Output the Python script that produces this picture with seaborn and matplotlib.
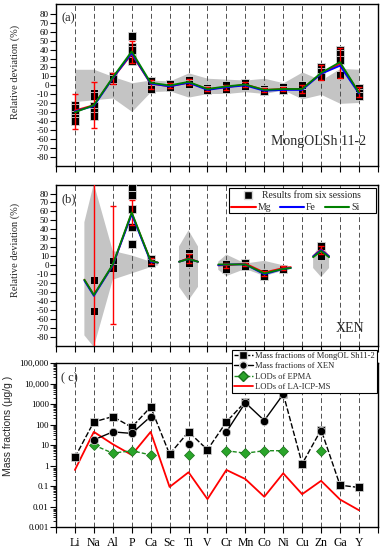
import numpy as np
import pandas as pd
import matplotlib
matplotlib.use("Agg")
import matplotlib.pyplot as plt
import matplotlib.ticker as mticker
from matplotlib.lines import Line2D
from matplotlib.patches import Rectangle
import seaborn as sns

nan = np.nan

# ---------------- data ----------------
elements = ['Li', 'Na', 'Al', 'P', 'Ca', 'Sc', 'Ti', 'V', 'Cr', 'Mn', 'Co', 'Ni', 'Cu', 'Zn', 'Ga', 'Y']
dev_ticks = list(range(-80, 90, 10))

# panel (a) MongOLSh 11-2
a_band_upper = [18, 18, 10, 3, 6, 5, 14, 8, 7, 6, 8, 3, 15, 6, 19, 18]
a_band_lower = [-18, -16, -14, -29, -7, -6, -13, -9, -9, -7, -9, -5, -15, -10, -20, -19]
a_sess_el = ['Li'] * 5 + ['Na'] * 5 + ['Al'] * 3 + ['P'] * 5 + ['Ca'] * 3 + ['Sc'] * 2 + ['Ti'] * 2 + \
            ['V'] * 2 + ['Cr'] * 2 + ['Mn'] * 2 + ['Co'] * 2 + ['Ni'] * 2 + ['Cu'] * 2 + ['Zn'] * 3 + \
            ['Ga'] * 4 + ['Y'] * 3
a_sess_val = [-22, -25, -33, -36, -40, -9, -12, -23, -30, -34, 10, 5, 7, 55, 43, 40, 30, 27,
              5, 0, -4, 2, -2, 6, 2, -3, -5, 0, -4, 3, -1, -4, -6, -2, -5, 0, -8,
              21, 15, 9, 40, 35, 28, 12, -3, -8, -12]
a_err_mean = [-29, -22, 8, 37, 1, 0, 4, -4, -2, 1, -5, -4, -4, 14, 25, -7]
a_err = [19.5, 26, 6, 12.5, 5, 3, 3, 2, 3, 3, 2, 2, 5, 8.5, 17, 5.5]
a_mg = [-28, -22, 8, 35, 2, -1, 3, -4, -2, 1, -5, -4, -4, 13, 24, -8]
a_fe = [-29, -23, 8, 36, 2, -1, 3, -5, -2, 0, -6, -5, -5, 13, 22, -9]
a_si = [-30, -22, 9, 38, 3, 0, 4, -4, -1, 1, -5, -4, -4, 14, 26, -8]

# panel (b) XEN
b_band_x = [0.5, 1, 2, 3, 4, 4.4, nan, 5.5, 6, 6.5, nan, 7.57, 8, 9, 10, 11, 11.4, nan, 12.58, 13, 13.42]
b_band_upper = [48, 91, 16, 11, 4, 1, nan, 21, 39, 21, nan, 4, 12, 2, 5, 0, -2, nan, 11, 24, 11]
b_band_lower = [-78, -91, -16, -9, -2, 0, nan, -24, -39, -24, nan, -5, -12, -4, -12, -6, -4, nan, -3, -13, -3]
b_sess_el = ['Na', 'Na', 'Al', 'Al', 'P', 'P', 'P', 'P', 'P', 'Ca', 'Ca', 'Ti', 'Ti', 'Ti',
             'Cr', 'Cr', 'Mn', 'Mn', 'Co', 'Co', 'Ni', 'Zn', 'Zn']
b_sess_val = [-16, -51, 5, -3, 87, 78, 63, 43, 24, 7, 3, 14, 9, 3, 1, -4, 3, -1, -8, -12, -4, 21, 10]
b_err_el = ['Na', 'Al', 'P', 'Ca', 'Ti', 'Cr', 'Mn', 'Co', 'Ni', 'Zn']
b_err_mean = [-33, 0.5, 59, 5, 8, 0, 1, -9, -3, 17]
b_err = [130, 65.5, 14, 3, 5, 3, 2, 3, 2, 4]
b_line_x = [0.5, 1, 2, 3, 4, 4.38, nan, 5.5, 6, 6.5, nan, 7.57, 8, 9, 10, 11, 11.4, nan, 12.58, 13, 13.42]
b_mg = [-16, -33, 0, 58, 5, 3, nan, 4, 8, 4, nan, 0, 0, 2, -8, -3, -2, nan, 10, 18, 10]
b_fe = [-17, -34, 0, 57, 4, 3, nan, 4, 7, 4, nan, 0, 1, 1, -10, -4, -3, nan, 10, 17, 10]
b_si = [-16, -33, 1, 59, 5, 3, nan, 4, 7, 4, nan, 1, 1, 1, -9, -4, -3, nan, 9, 16, 9]

# panel (c) mass fractions
c_mongol = [2.5, 135, 246, 74, 715, 3.6, 44, 5.9, 135, 1300, nan, 3200, 1.2, 56, 0.11, 0.085]
c_xen = [nan, 18, 44, 37, 246, nan, 11, nan, 44, 1170, 158, 3000, nan, 47, nan, nan]
c_epma = [nan, 10, 4, 5.3, 3.3, nan, 3.3, nan, 5.3, 4, 5.3, 5.3, nan, 5.3, nan, nan]
c_lod = [0.61, 44, 11, 3.3, 44, 0.09, 0.47, 0.023, 0.61, 0.22, 0.03, 0.42, 0.04, 0.18, 0.022, 0.0066]
c_ticks = [0.001, 0.01, 0.1, 1, 10, 100, 1000, 10000, 100000]
c_tick_labels = ['0.001', '0.01', '0.1', '1', '10', '100', '1000', '10,000', '100,000']

# ---------------- style ----------------
sns.set_theme(style="ticks")
plt.rcParams['font.family'] = ['Liberation Serif', 'DejaVu Serif']
plt.rcParams['axes.unicode_minus'] = False
plt.rcParams['axes.linewidth'] = 1.0

RED, BLUE, GREEN = '#ff0000', '#0000ff', '#008000'
BAND = '#c4c4c4'
VGRID = dict(color='#505050', lw=0.7, ls=(0, (5, 3)), zorder=1.5)

fig = plt.figure(figsize=(3.86, 5.5), dpi=100)
ax_a = fig.add_axes([0.145, 0.698, 0.834, 0.295])
ax_b = fig.add_axes([0.145, 0.3715, 0.834, 0.293])
ax_c = fig.add_axes([0.145, 0.0418, 0.834, 0.298])

xpos = np.arange(len(elements))
idx = {e: i for i, e in enumerate(elements)}


def dev_axes(ax, ylim):
    ax.set_xlim(-1, 16)
    ax.set_ylim(*ylim)
    ax.set_yticks(dev_ticks)
    ax.set_yticklabels([str(t) for t in dev_ticks])
    ax.set_xticks(range(-1, 17))
    ax.set_xticklabels([])
    ax.tick_params(axis='both', direction='out', length=4, width=0.8, pad=1.2, labelsize=6.5,
                   colors='black')
    for s in ax.spines.values():
        s.set_visible(True)
        s.set_color('black')
    for i in xpos:
        ax.axvline(i, **VGRID)


def squares(ax, els, vals):
    df = pd.DataFrame({'x': [idx[e] for e in els], 'y': vals})
    sns.scatterplot(data=df, x='x', y='y', ax=ax, marker='s', s=32, color='black',
                    edgecolor='#d8d8d8', linewidth=0.6, zorder=3, legend=False)
    ax.set_xlabel('')


# ---------------- panel (a) ----------------
dev_axes(ax_a, (-90, 91))
ax_a.fill_between(xpos, a_band_lower, a_band_upper, color=BAND, lw=0, zorder=1)
squares(ax_a, a_sess_el, a_sess_val)
ax_a.errorbar(xpos, a_err_mean, yerr=a_err, fmt='none', ecolor=RED, elinewidth=1.0,
              capsize=2.4, capthick=1.0, zorder=4)
dfa = pd.DataFrame({'x': np.tile(xpos, 3), 'y': a_mg + a_fe + a_si,
                    'el': ['Mg'] * 16 + ['Fe'] * 16 + ['Si'] * 16})
sns.lineplot(data=dfa, x='x', y='y', hue='el', palette={'Mg': RED, 'Fe': BLUE, 'Si': GREEN},
             hue_order=['Mg', 'Fe', 'Si'], lw=1.3, ax=ax_a, legend=False, zorder=5)
ax_a.set_xlabel('')
ax_a.set_ylabel('Relative deviation (%)', fontsize=7.5)
ax_a.yaxis.set_label_coords(-0.112, 0.58)
ax_a.text(0.016, 0.91, '(a)', transform=ax_a.transAxes, fontsize=9, va='center', ha='left')
ax_a.text(0.962, 0.15, 'MongOLSh 11-2', transform=ax_a.transAxes, fontsize=10, va='center', ha='right')

# ---------------- panel (b) ----------------
dev_axes(ax_b, (-89.5, 90))
ax_b.fill_between(b_band_x, b_band_lower, b_band_upper, color=BAND, lw=0, zorder=1)
squares(ax_b, b_sess_el, b_sess_val)
ax_b.errorbar([idx[e] for e in b_err_el], b_err_mean, yerr=b_err, fmt='none', ecolor=RED,
              elinewidth=1.0, capsize=2.4, capthick=1.0, zorder=4)
ax_b.plot(b_line_x, b_mg, color=RED, lw=1.3, zorder=5)
ax_b.plot(b_line_x, b_fe, color=BLUE, lw=1.3, zorder=5)
ax_b.plot(b_line_x, b_si, color=GREEN, lw=1.3, zorder=5)
ax_b.set_xlabel('')
ax_b.set_ylabel('Relative deviation (%)', fontsize=7.5)
ax_b.yaxis.set_label_coords(-0.112, 0.594)
ax_b.text(0.016, 0.91, '(b)', transform=ax_b.transAxes, fontsize=9, va='center', ha='left')
ax_b.text(0.957, 0.108, 'XEN', transform=ax_b.transAxes, fontsize=10, va='center', ha='right')

frame = Rectangle((0.537, 0.821), 0.458, 0.155, transform=ax_b.transAxes, facecolor='white',
                  edgecolor='black', lw=0.8, zorder=6)
ax_b.add_patch(frame)
leg1 = ax_b.legend(handles=[Line2D([], [], ls='none', marker='s', color='black',
                                   markeredgecolor='#d8d8d8', ms=6)],
                   labels=['Results from six sessions'], loc='center left',
                   bbox_to_anchor=(0.565, 0.93), frameon=False, fontsize=7,
                   handletextpad=0.5, borderpad=0, borderaxespad=0)
leg1.set_zorder(7)
ax_b.add_artist(leg1)
leg2 = ax_b.legend(handles=[Line2D([], [], color=c, lw=1.5) for c in (RED, BLUE, GREEN)],
                   labels=['Mg', 'Fe', 'Si'], ncol=3, loc='center left',
                   bbox_to_anchor=(0.545, 0.855), frameon=False, fontsize=7,
                   handlelength=2.5, handletextpad=0.2, columnspacing=0.9,
                   borderpad=0, borderaxespad=0)
leg2.set_zorder(7)

# ---------------- panel (c) ----------------
ax_c.set_yscale('log')
ax_c.set_xlim(-1, 16)
ax_c.set_ylim(0.001, 100000)
for i in xpos:
    ax_c.axvline(i, **VGRID)
ax_c.plot(xpos, c_lod, color=RED, lw=1.3, zorder=2)
ax_c.plot(xpos, c_epma, color='#1e8c1e', lw=1.0, ls=(0, (3, 1.5)), marker='D', ms=5.5,
          mfc='#2aa52a', mec='#1a6e1a', mew=0.5, zorder=3)
ax_c.plot(xpos, c_mongol, color='black', lw=1.0, ls=(0, (4, 1.5)), marker='s', ms=6,
          mec='#d8d8d8', mew=0.5, zorder=4)
ax_c.plot(xpos, c_xen, color='black', lw=1.0, marker='o', ms=6,
          mec='#d8d8d8', mew=0.5, zorder=5)
ax_c.yaxis.set_major_locator(mticker.FixedLocator(c_ticks))
ax_c.yaxis.set_major_formatter(mticker.FixedFormatter(c_tick_labels))
ax_c.yaxis.set_minor_locator(mticker.LogLocator(base=10, subs=np.arange(2, 10), numticks=20))
ax_c.yaxis.set_minor_formatter(mticker.NullFormatter())
ax_c.set_xticks(range(-1, 17))
ax_c.set_xticklabels([''] + elements + [''])
ax_c.tick_params(axis='both', which='major', direction='out', length=4, width=0.8, pad=1.2,
                 labelsize=6.5, colors='black')
ax_c.tick_params(axis='y', which='minor', direction='out', length=2, width=0.6, colors='black')
ax_c.tick_params(axis='x', which='major', labelsize=8.5, pad=3)
for s in ax_c.spines.values():
    s.set_visible(True)
    s.set_color('black')
ax_c.set_ylabel('Mass fractions (μg/g )', fontsize=7.5, family=['Liberation Sans', 'DejaVu Sans'])
ax_c.yaxis.set_label_coords(-0.132, 0.62)
ax_c.text(0.016, 0.905, '( c)', transform=ax_c.transAxes, fontsize=9, va='center', ha='left')

leg_c = ax_c.legend(
    handles=[Line2D([], [], color='black', lw=1.0, ls=(0, (3, 1.2)), marker='s', ms=5.5, mec='#d8d8d8'),
             Line2D([], [], color='black', lw=1.0, marker='o', ms=5.5, mec='#d8d8d8'),
             Line2D([], [], color='#1e8c1e', lw=1.0, ls=(0, (3, 1.2)), marker='D', ms=5,
                    mfc='#2aa52a', mec='#1a6e1a'),
             Line2D([], [], color=RED, lw=1.3)],
    labels=['Mass fractions of MongOL Sh11-2', 'Mass fractions of XEN', 'LODs of EPMA',
            'LODs of LA-ICP-MS'],
    loc='upper left', bbox_to_anchor=(0.547, 1.081), fontsize=6.1, frameon=True,
    fancybox=False, edgecolor='black', framealpha=1, borderpad=0.2, labelspacing=0.3,
    handlelength=2.3, handletextpad=0.25, borderaxespad=0)
leg_c.get_frame().set_linewidth(0.8)
leg_c.set_zorder(10)

fig.savefig('out.png', dpi=100)
